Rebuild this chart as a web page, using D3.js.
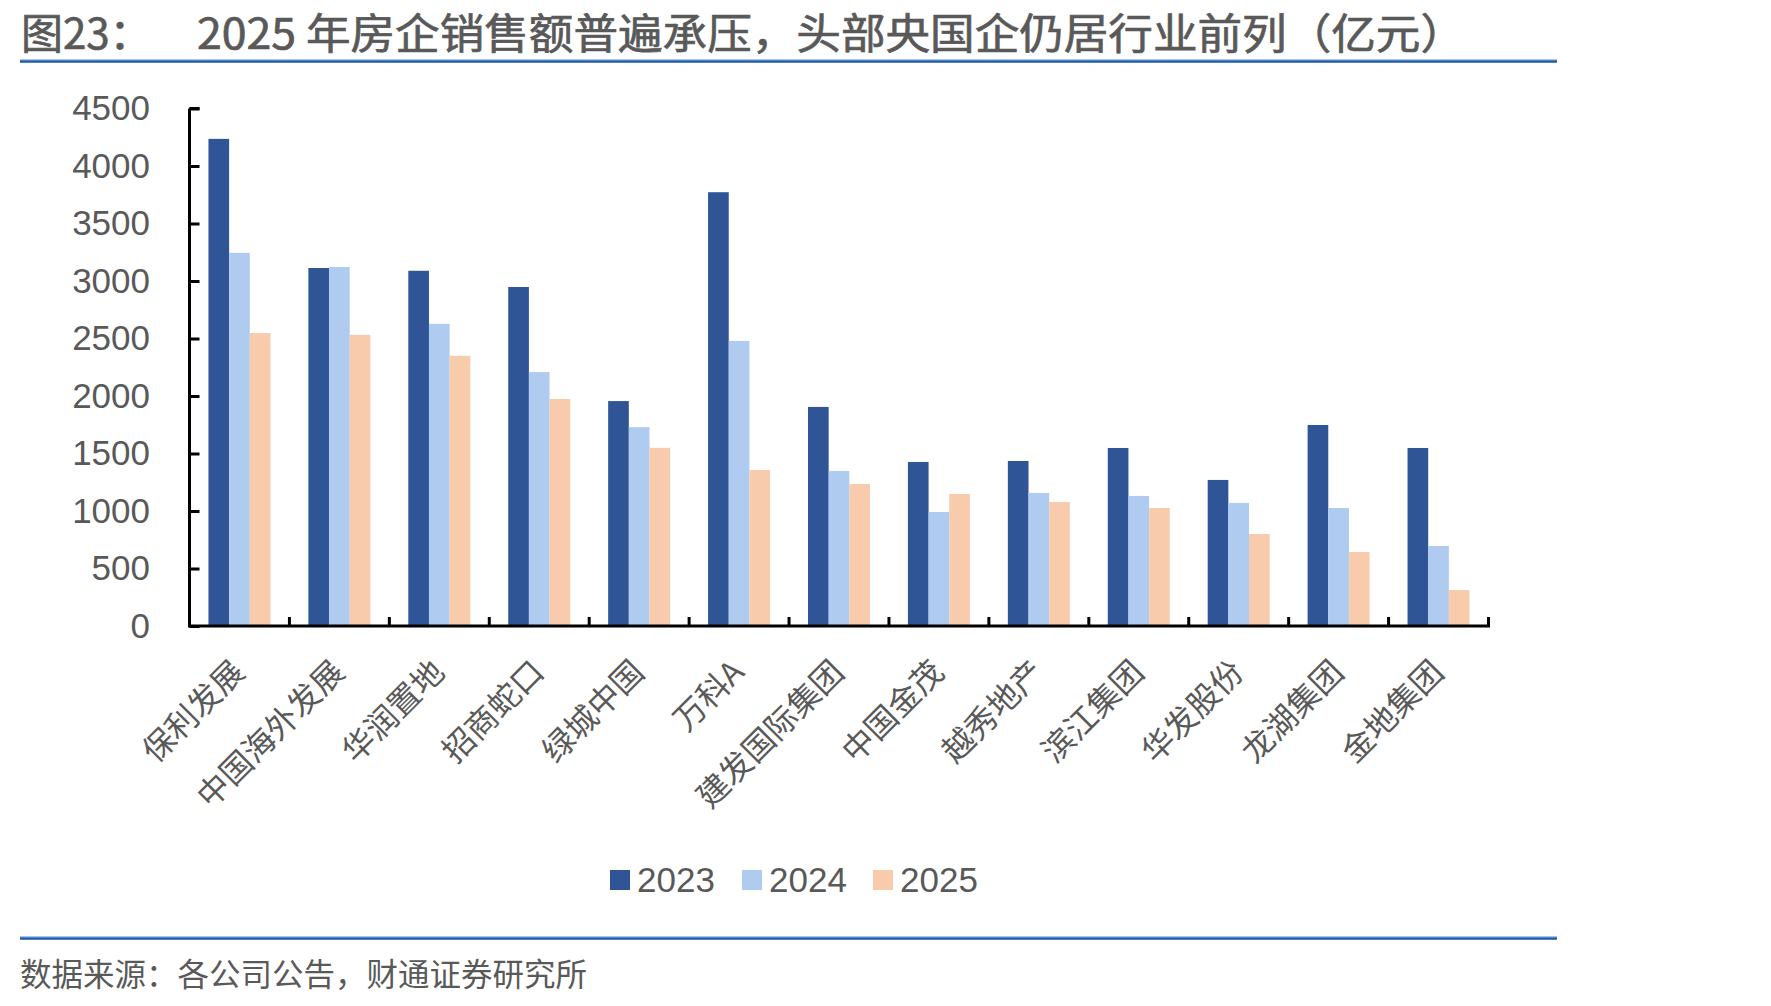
<!DOCTYPE html>
<html>
<head>
<meta charset="utf-8">
<script src="https://cdn.jsdelivr.net/npm/d3@7"></script>
<style>
  html, body { margin: 0; padding: 0; background: #fff; }
  svg { display: block; }
</style>
</head>
<body>
<svg id="chart" width="1771" height="1006"></svg>
<script>
// ---------- data ----------
const categories = ["保利发展","中国海外发展","华润置地","招商蛇口","绿城中国","万科A","建发国际集团","中国金茂","越秀地产","滨江集团","华发股份","龙湖集团","金地集团"];
const seriesNames = ["2023","2024","2025"];
const values2023 = [4236, 3113, 3089, 2948, 1956, 3772, 1905, 1426, 1435, 1548, 1270, 1748, 1548];
const values2024 = [3245, 3122, 2628, 2208, 1729, 2479, 1348, 991, 1157, 1131, 1070, 1026, 696];
const values2025 = [2547, 2532, 2349, 1974, 1549, 1357, 1235, 1148, 1078, 1026, 800, 644, 313];
const yTicks = [0, 500, 1000, 1500, 2000, 2500, 3000, 3500, 4000, 4500];
const titlePrefix = "图23：";
const titleText = "2025 年房企销售额普遍承压，头部央国企仍居行业前列（亿元）";
const sourceText = "数据来源：各公司公告，财通证券研究所";

// ---------- styles ----------
const colors = {"2023": "#2F5597", "2024": "#AFCBEF", "2025": "#F8CBAD"};
const textColor = "#595959";
const latin = "'Liberation Sans', Arial, sans-serif";
const cjk = "'Noto Sans CJK SC', 'Liberation Sans', sans-serif";

const svg = d3.select("#chart");

// plot area
const plot = {left: 189.5, right: 1488.5, top: 108.5, bottom: 626};

const x0 = d3.scaleBand().domain(categories).range([plot.left, plot.right]).padding(0);
const groupW = 62;
const x1 = d3.scaleBand().domain(seriesNames).range([0, groupW]).padding(0);
const y = d3.scaleLinear().domain([0, 4500]).range([plot.bottom, plot.top]);

const table = categories.map((c, i) => ({
  cat: c,
  vals: [
    {s: "2023", v: values2023[i]},
    {s: "2024", v: values2024[i]},
    {s: "2025", v: values2025[i]}
  ]
}));

// ---------- title ----------
svg.append("text")
  .attr("x", 21).attr("y", 49)
  .attr("font-family", cjk).attr("font-size", 42)
  .attr("fill", textColor).attr("stroke", textColor).attr("stroke-width", 0.7)
  .text(titlePrefix);
svg.append("text")
  .attr("x", 197).attr("y", 49)
  .attr("font-family", cjk).attr("font-size", 42)
  .attr("fill", textColor).attr("stroke", textColor).attr("stroke-width", 0.7)
  .attr("textLength", 1268).attr("lengthAdjust", "spacingAndGlyphs")
  .text(titleText);

function ruleLine(yy) {
  svg.append("line").attr("x1", 20).attr("x2", 1557).attr("y1", yy - 1.5).attr("y2", yy - 1.5)
    .attr("stroke", "#A9C4E6").attr("stroke-width", 1);
  svg.append("line").attr("x1", 20).attr("x2", 1557).attr("y1", yy + 0.5).attr("y2", yy + 0.5)
    .attr("stroke", "#1F5AA6").attr("stroke-width", 2.5);
}
ruleLine(61);
ruleLine(938);

// ---------- bars ----------
const groups = svg.append("g").selectAll("g")
  .data(table).join("g")
  .attr("transform", d => `translate(${x0(d.cat) + (x0.bandwidth() - groupW) / 2},0)`);

groups.selectAll("rect")
  .data(d => d.vals).join("rect")
  .attr("x", d => x1(d.s))
  .attr("width", x1.bandwidth())
  .attr("y", d => y(d.v))
  .attr("height", d => y(0) - y(d.v))
  .attr("fill", d => colors[d.s]);

// ---------- y axis ----------
const yAxis = d3.axisLeft(y)
  .tickValues(yTicks)
  .tickFormat(d3.format("d"))
  .tickSizeInner(-10)
  .tickSizeOuter(0)
  .tickPadding(39.5);

const yg = svg.append("g")
  .attr("transform", `translate(${plot.left},0)`)
  .call(yAxis);
yg.select(".domain").attr("stroke", "#000").attr("stroke-width", 3)
  .attr("d", `M0,${plot.top}H10M0,${plot.top}V${plot.bottom}`);
yg.selectAll(".tick line").attr("stroke", "#000").attr("stroke-width", 3);
yg.selectAll(".tick text")
  .attr("font-family", latin).attr("font-size", 35)
  .attr("fill", textColor);

// ---------- x axis ----------
const xg = svg.append("g");
xg.append("line")
  .attr("x1", plot.left - 1.5).attr("x2", plot.right + 1.5)
  .attr("y1", plot.bottom).attr("y2", plot.bottom)
  .attr("stroke", "#000").attr("stroke-width", 3);
const boundaries = categories.slice(1).map(c => x0(c)).concat([plot.right]);
xg.selectAll("line.tk")
  .data(boundaries).join("line").attr("class", "tk")
  .attr("x1", d => d).attr("x2", d => d)
  .attr("y1", plot.bottom).attr("y2", plot.bottom - 9)
  .attr("stroke", "#000").attr("stroke-width", 3);

xg.selectAll("text.lbl")
  .data(categories).join("text").attr("class", "lbl")
  .attr("transform", d => `translate(${x0(d) + x0.bandwidth() / 2 + 7},${plot.bottom + 48}) rotate(-45)`)
  .attr("text-anchor", "end")
  .attr("font-family", cjk).attr("font-size", 32)
  .attr("fill", textColor)
  .text(d => d);

// ---------- legend ----------
const legendItems = [
  {s: "2023", x: 610},
  {s: "2024", x: 742},
  {s: "2025", x: 873}
];
const lg = svg.append("g");
lg.selectAll("rect")
  .data(legendItems).join("rect")
  .attr("x", d => d.x).attr("y", 870)
  .attr("width", 20).attr("height", 20)
  .attr("fill", d => colors[d.s]);
lg.selectAll("text")
  .data(legendItems).join("text")
  .attr("x", d => d.x + 27).attr("y", 892)
  .attr("font-family", latin).attr("font-size", 35)
  .attr("fill", textColor)
  .text(d => d.s);

// ---------- source ----------
svg.append("text")
  .attr("x", 20).attr("y", 986)
  .attr("font-family", cjk).attr("font-size", 31.5)
  .attr("fill", textColor)
  .text(sourceText);
</script>
</body>
</html>
